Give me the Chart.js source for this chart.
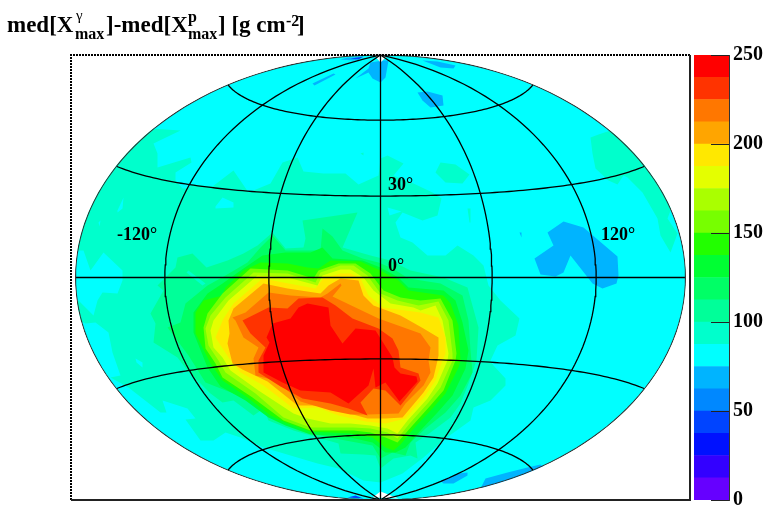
<!DOCTYPE html>
<html>
<head>
<meta charset="utf-8">
<script src="https://cdn.jsdelivr.net/npm/chart.js@4"></script>
<style>
  html, body { margin: 0; padding: 0; background: #fff; overflow: hidden; }
  canvas { position: absolute; top: 0; }
</style>
</head>
<body>
<canvas id="map" width="765" height="508" style="left:0"></canvas>
<canvas id="bar" width="75" height="508" style="left:690px"></canvas>
<script>
// palette of the z axis, lowest level first
const levelColors = ['#6600ff', '#3300ff', '#0011ff', '#0044ff', '#0088ff', '#00b4ff', '#00ffff', '#00ffcc',
  '#00ff99', '#00ff66', '#00ff33', '#22ff00', '#77ff00', '#aaff00', '#e4ff00', '#ffe800', '#ffa500', '#ff7700', '#ff3300', '#ff0000'];
const levelStep = 12.5;
const barMax = 250;
const barTicks = [0, 50, 100, 150, 200, 250];

const meridians = [-120, -60, 0, 60, 120];
const parallels = [-60, -30, 0, 30, 60];

// contours, [x, y] in map units (x -305..305, y -222..222)
const band87 = [[-240,157],[-230,149],[-200,147],[-227,134],[-223,124],[-223,110],[-190,120],[-189,115],[-205,105],[-205,97],[-198,89],[-193,89],[-188,93],[-168,91],[-147,107],[-132,85],[-110,94],[-98,115],[-83,120],[-77,106],[-57,104],[-35,104],[-22,93],[-2,102],[0,119],[7,122],[23,114],[13,102],[33,94],[52,85],[61,79],[57,62],[42,57],[22,65],[15,55],[20,40],[32,35],[47,22],[65,22],[77,32],[93,22],[103,12],[108,-8],[120,-23],[139,-41],[135,-58],[117,-68],[110,-83],[113,-88],[125,-101],[125,-108],[110,-123],[93,-130],[90,-143],[65,-161],[43,-180],[22,-196],[0,-205],[-17,-203],[-42,-191],[-63,-186],[-90,-178],[-117,-170],[-140,-160],[-155,-155],[-167,-163],[-180,-163],[-195,-142],[-185,-141],[-193,-131],[-218,-123],[-214,-135],[-220,-135],[-252,-110],[-270,-100],[-260,-98],[-268,-75],[-272,-55],[-285,-45],[-295,-46],[-310,-38],[-302,-23],[-287,-38],[-283,-23],[-278,-15],[-263,-16],[-258,-3],[-258,7],[-277,25],[-290,7],[-297,27],[-310,27],[-310,87]];
const band87East = [[210,140],[218,143],[245,152],[275,102],[292,72],[287,59],[297,44],[290,25],[280,42],[277,59],[262,85],[247,100],[243,102],[237,93],[228,97],[215,109],[212,124]];
const band87Mid = [[55,105],[60,115],[75,113],[89,103],[82,94],[65,95]];
const band87Sliver = [[87,69],[90,69],[90,55],[89,55]];
const band87Speck = [[-20,124],[-17,125],[-17,122]];

const hole75a = [[-263,67],[-257,80],[-258,69],[-263,65]];
const hole75b = [[-282,55],[-280,57],[-281,51]];
const hole75c = [[-165,71],[-158,80],[-147,75],[-147,70],[-165,69]];
const hole75d = [[7,70],[21,66],[9,62]];
const hole75e = [[-245,-81],[-238,-85],[-238,-90],[-244,-85]];

const low62East = [[167,45],[183,56],[203,50],[237,21],[238,2],[236,-6],[222,-11],[212,-6],[190,22],[183,5],[175,1],[160,3],[154,19],[173,32]];
const low62Speck = [[139,45],[141,45],[141,40]];
const low62Pole = [[-25,199],[-12,209],[-10,215],[2,217],[8,217],[5,200],[0,195],[-8,199],[-12,205]];
const low62North = [[37,185],[47,186],[62,182],[63,172],[50,170],[42,177]];
const low62Rim = [[42,217],[57,216],[75,212],[73,209],[60,210]];
const low62TopLeft = [[-40,218],[-33,220],[-17,220],[-27,217]];
const low62Streak = [[-68,194],[-47,204],[-45,203],[-66,192]];
const low62South = [[60,-203],[78,-196],[87,-195],[87,-198],[73,-206],[63,-206]];
const low62SouthRim = [[100,-211],[105,-201],[127,-195],[147,-190],[160,-187],[170,-193],[110,-218]];
const low37Top = [[-30,219],[-17,221],[-22,218]];
const low37Bottom = [[-33,-220],[-17,-221],[-25,-218]];

const band100 = [[-223,-8],[-205,10],[-203,20],[-188,24],[-174,10],[-153,17],[-137,24],[-123,32],[-108,45],[-95,29],[-77,30],[-75,39],[-78,57],[-23,65],[-38,30],[-10,22],[10,17],[30,7],[63,0],[87,-10],[90,-21],[98,-50],[96,-83],[88,-106],[80,-126],[70,-140],[50,-155],[35,-165],[37,-181],[30,-178],[13,-181],[0,-191],[-5,-178],[-17,-177],[-40,-176],[-42,-166],[-63,-160],[-87,-153],[-112,-143],[-117,-131],[-127,-138],[-147,-123],[-158,-125],[-170,-116],[-180,-106],[-193,-93],[-203,-80],[-227,-65],[-225,-46],[-230,-36],[-217,-13]];
const band100Notch = [[-192,7],[-175,-6],[-178,-8],[-194,5]];
const band112 = [[-213,-50],[-200,-45],[-195,-26],[-173,-8],[-155,2],[-133,15],[-120,30],[-108,42],[-95,27],[-60,27],[-58,49],[-48,41],[-38,27],[-18,19],[-2,15],[12,9],[28,-1],[60,-6],[82,-18],[88,-43],[90,-73],[92,-95],[80,-118],[65,-135],[45,-151],[30,-165],[25,-178],[12,-175],[0,-181],[-8,-168],[-35,-163],[-60,-158],[-87,-148],[-103,-138],[-127,-125],[-147,-116],[-175,-105],[-192,-78]];
const band125 = [[-187,-55],[-187,-35],[-173,-16],[-158,-6],[-137,9],[-118,22],[-95,25],[-70,25],[-58,30],[-48,19],[-18,17],[0,10],[18,0],[28,-10],[63,-13],[75,-23],[82,-45],[88,-73],[85,-91],[72,-118],[57,-135],[40,-153],[25,-170],[15,-175],[5,-175],[-8,-165],[-30,-160],[-50,-158],[-70,-157],[-95,-148],[-112,-140],[-135,-123],[-160,-109],[-173,-90]];
const band137 = [[-185,-56],[-185,-35],[-177,-23],[-158,-18],[-155,-10],[-137,7],[-120,15],[-93,14],[-73,10],[-62,9],[-50,17],[-20,16],[0,7],[18,-3],[28,-13],[63,-18],[70,-26],[78,-48],[80,-83],[78,-90],[65,-116],[52,-131],[35,-149],[20,-167],[13,-173],[5,-170],[-8,-160],[-30,-156],[-50,-155],[-70,-154],[-93,-146],[-110,-138],[-133,-120],[-158,-103],[-170,-86]];
const band150 = [[-177,-50],[-173,-36],[-158,-16],[-130,9],[-93,7],[-67,-1],[-62,7],[-42,14],[-25,14],[-10,4],[3,-13],[20,-20],[40,-23],[60,-21],[72,-43],[76,-76],[75,-83],[63,-113],[50,-128],[32,-148],[17,-165],[5,-160],[-10,-155],[-27,-153],[-50,-153],[-70,-153],[-97,-143],[-128,-120],[-158,-100],[-165,-86],[-175,-71]];
const band162 = [[-175,-51],[-170,-38],[-155,-20],[-127,5],[-93,4],[-65,-5],[-60,5],[-40,12],[-27,12],[-13,2],[0,-16],[17,-23],[38,-28],[58,-24],[68,-43],[72,-76],[72,-83],[60,-110],[48,-125],[30,-145],[17,-161],[7,-155],[-10,-151],[-27,-150],[-50,-150],[-70,-150],[-97,-140],[-125,-116],[-155,-95],[-162,-83],[-172,-68]];
const band175 = [[-170,-53],[-167,-43],[-152,-23],[-123,2],[-93,0],[-63,-8],[-58,2],[-40,8],[-30,8],[-17,0],[-7,-13],[10,-26],[33,-30],[40,-33],[55,-28],[62,-43],[68,-76],[67,-83],[57,-106],[47,-121],[27,-143],[17,-156],[7,-151],[-10,-148],[-30,-146],[-50,-146],[-73,-141],[-87,-136],[-122,-113],[-150,-93],[-158,-80],[-167,-70]];
const band187 = [[-165,-60],[-157,-41],[-147,-26],[-118,-1],[-92,-6],[-65,-11],[-57,-1],[-40,4],[-30,4],[-20,-1],[-12,-18],[3,-30],[10,-31],[40,-35],[58,-40],[65,-60],[65,-76],[62,-83],[55,-103],[45,-118],[25,-141],[5,-146],[-15,-144],[-42,-138],[-63,-130],[-87,-131],[-117,-108],[-140,-95],[-152,-80]];
const band200 = [[-153,-66],[-151,-56],[-152,-43],[-147,-31],[-117,-6],[-93,-11],[-60,-16],[-52,-8],[-40,-1],[-22,-3],[-17,-18],[-7,-28],[20,-38],[43,-51],[58,-60],[58,-78],[57,-83],[53,-100],[43,-115],[22,-140],[5,-141],[-13,-141],[-42,-133],[-60,-128],[-83,-128],[-113,-104],[-138,-92],[-148,-86]];
const band212 = [[-148,-40],[-135,-35],[-112,-15],[-90,-18],[-60,-20],[-53,-16],[-40,-6],[-39,-8],[-48,-19],[-2,-41],[40,-56],[50,-70],[48,-83],[50,-95],[43,-108],[25,-126],[18,-136],[-12,-137],[-30,-137],[-50,-133],[-80,-124],[-105,-103],[-125,-98],[-127,-81],[-122,-70],[-137,-60],[-145,-43]];
const band225 = [[-138,-43],[-112,-30],[-93,-31],[-82,-21],[-58,-20],[-45,-28],[-28,-41],[-2,-51],[12,-61],[18,-73],[20,-90],[38,-96],[40,-103],[20,-128],[5,-113],[-7,-111],[-20,-125],[-13,-138],[-32,-131],[-50,-126],[-78,-121],[-100,-109],[-122,-95],[-122,-83],[-115,-70],[-130,-56]];
const band237 = [[-90,-41],[-82,-30],[-73,-26],[-52,-30],[-50,-48],[-38,-66],[-25,-51],[-5,-53],[12,-80],[14,-90],[20,-96],[36,-99],[37,-104],[19,-124],[5,-105],[-5,-110],[-7,-91],[-12,-108],[-32,-126],[-50,-115],[-80,-113],[-98,-105],[-117,-95],[-117,-78],[-111,-65],[-114,-60],[-108,-46]];
const poleNorth = [[-6,222],[7,222],[0,215]];
const poleSouth = [[-8,-220],[18,-221],[0,-214]];

// paint order, lower bands first, holes sit on what they cut
const contourLayers = [
  [band87, 7], [band87East, 7], [band87Mid, 7], [band87Sliver, 7], [band87Speck, 7],
  [hole75a, 6], [hole75b, 6], [hole75c, 6], [hole75d, 6], [hole75e, 6],
  [low62East, 5], [low62Speck, 5], [low62Pole, 5], [low62North, 5], [low62Rim, 5], [low62TopLeft, 5], [low62Streak, 5], [low62South, 5], [low62SouthRim, 5],
  [low37Top, 3], [low37Bottom, 3],
  [band100, 8], [band100Notch, 7], [band112, 9], [band125, 10], [band137, 11], [band150, 12], [band162, 13], [band175, 14],
  [band187, 15], [band200, 16], [band212, 17], [band225, 18], [band237, 19]
];

const mapRx = 305, mapRy = 222.5;

// hammer projection into map units
function hammer(lon, lat) {
  const l = lon * Math.PI / 360, p = lat * Math.PI / 180;
  const d = Math.sqrt(1 + Math.cos(p) * Math.cos(l));
  return { x: mapRx * Math.cos(p) * Math.sin(l) / d, y: mapRy * Math.sin(p) / d };
}

function meridianLine(lon) {
  const pts = [];
  for (let lat = -90; lat <= 90; lat += 2) pts.push(hammer(lon, lat));
  return pts;
}

function parallelLine(lat) {
  const pts = [];
  for (let lon = -180; lon <= 180; lon += 3) pts.push(hammer(lon, lat));
  return pts;
}

const datasets = [];
function addArea(pts, color) {
  datasets.push({ data: pts, showLine: true, pointRadius: 0, borderWidth: 0, fill: 'shape', backgroundColor: color, clip: false, order: -datasets.length });
}
function addLine(pts, color, width) {
  datasets.push({ data: pts, showLine: true, pointRadius: 0, borderWidth: width, borderColor: color, fill: false, clip: false, order: -datasets.length });
}

addArea(meridianLine(180).concat(meridianLine(-180).reverse()), levelColors[6]);
contourLayers.forEach(([pts, level]) => addArea(pts.map(([x, y]) => ({ x, y })), levelColors[level]));
addArea(poleNorth.map(([x, y]) => ({ x, y })), '#fff');
addArea(poleSouth.map(([x, y]) => ({ x, y })), '#fff');
parallels.forEach(lat => addLine(parallelLine(lat), '#000', 1.3));
meridians.forEach(lon => addLine(meridianLine(lon), '#000', 1.3));
addLine(meridianLine(180), '#333', 1.2);
addLine(meridianLine(-180), '#333', 1.2);

const serif = 'bold 18px "Liberation Serif"';

const mapFrame = {
  id: 'mapFrame',
  beforeDatasetsDraw(chart) {
    const x = chart.scales.x, y = chart.scales.y, ctx = chart.ctx;
    ctx.save();
    ctx.beginPath();
    ctx.ellipse(x.getPixelForValue(0), y.getPixelForValue(0),
      x.getPixelForValue(mapRx) - x.getPixelForValue(0) + 0.5,
      y.getPixelForValue(0) - y.getPixelForValue(mapRy) + 0.5, 0, 0, Math.PI * 2);
    ctx.clip();
  },
  afterDatasetsDraw(chart) {
    const ctx = chart.ctx, a = chart.chartArea;
    ctx.restore();
    ctx.save();
    ctx.strokeStyle = '#000';
    ctx.lineWidth = 2;
    ctx.setLineDash([2, 1]);
    ctx.beginPath();
    ctx.moveTo(a.left, a.bottom);
    ctx.lineTo(a.left, a.top);
    ctx.lineTo(a.right, a.top);
    ctx.stroke();
    ctx.setLineDash([]);
    ctx.strokeStyle = '#222';
    ctx.beginPath();
    ctx.moveTo(a.right, a.top);
    ctx.lineTo(a.right, a.bottom);
    ctx.lineTo(a.left, a.bottom);
    ctx.stroke();

    ctx.fillStyle = '#000';
    ctx.textBaseline = 'alphabetic';
    ctx.font = serif;
    ctx.fillText('30°', 388, 190);
    ctx.fillText('0°', 388, 271);
    ctx.fillText('-120°', 117, 240);
    ctx.fillText('120°', 601, 240);

    // title, pieces placed by hand for the stacked super and subscripts
    const big = 'bold 23px "Liberation Serif"', small = 'bold 16px "Liberation Serif"';
    ctx.font = big;
    ctx.fillText('med[X', 7, 32);
    ctx.fillText(']-med[X', 106, 32);
    ctx.fillText('] [g cm', 218, 32);
    ctx.fillText(']', 297, 32);
    ctx.font = small;
    ctx.fillText('max', 75, 39);
    ctx.fillText('max', 188, 39);
    ctx.fillText('p', 188, 22);
    ctx.fillText('-2', 286, 26);
    ctx.font = '15px "Liberation Serif"';
    ctx.fillText('γ', 76, 20);
    ctx.restore();
  }
};

new Chart(document.getElementById('map'), {
  type: 'scatter',
  data: { datasets },
  plugins: [mapFrame],
  options: {
    responsive: false,
    animation: false,
    layout: { padding: { left: 71, top: 55, right: 75, bottom: 8 } },
    scales: {
      x: { type: 'linear', display: false, min: -309.5, max: 309.5 },
      y: { type: 'linear', display: false, min: -222.5, max: 222.5 }
    },
    plugins: { legend: { display: false }, tooltip: { enabled: false } }
  }
});

const barTickMarks = {
  id: 'barTickMarks',
  afterDatasetsDraw(chart) {
    const ctx = chart.ctx, a = chart.chartArea, y = chart.scales.y;
    ctx.save();
    ctx.strokeStyle = '#222';
    ctx.lineWidth = 1;
    barTicks.forEach(t => {
      const py = Math.round(y.getPixelForValue(t)) + 0.5;
      ctx.beginPath();
      ctx.moveTo(a.right - 18, py);
      ctx.lineTo(a.right, py);
      ctx.stroke();
    });
    ctx.restore();
  }
};

new Chart(document.getElementById('bar'), {
  type: 'bar',
  data: {
    labels: [''],
    datasets: levelColors.map(c => ({ data: [levelStep], backgroundColor: c, barPercentage: 1, categoryPercentage: 1, borderWidth: 0 }))
  },
  plugins: [barTickMarks],
  options: {
    responsive: false,
    animation: false,
    layout: { autoPadding: false, padding: { left: 4, top: 55, right: 0, bottom: 8 } },
    scales: {
      x: { stacked: true, display: false },
      y: {
        stacked: true,
        position: 'right',
        min: 0,
        max: barMax,
        afterFit(s) { s.width = 36; s.paddingTop = 0; s.paddingBottom = 0; },
        afterBuildTicks(s) { s.ticks = barTicks.map(value => ({ value })); },
        grid: { display: false, drawTicks: false },
        border: { display: true, color: '#333', width: 1 },
        ticks: { color: '#000', padding: 4, font: { family: 'Liberation Serif', weight: 'bold', size: 20 } }
      }
    },
    plugins: { legend: { display: false }, tooltip: { enabled: false } }
  }
});
</script>
</body>
</html>
